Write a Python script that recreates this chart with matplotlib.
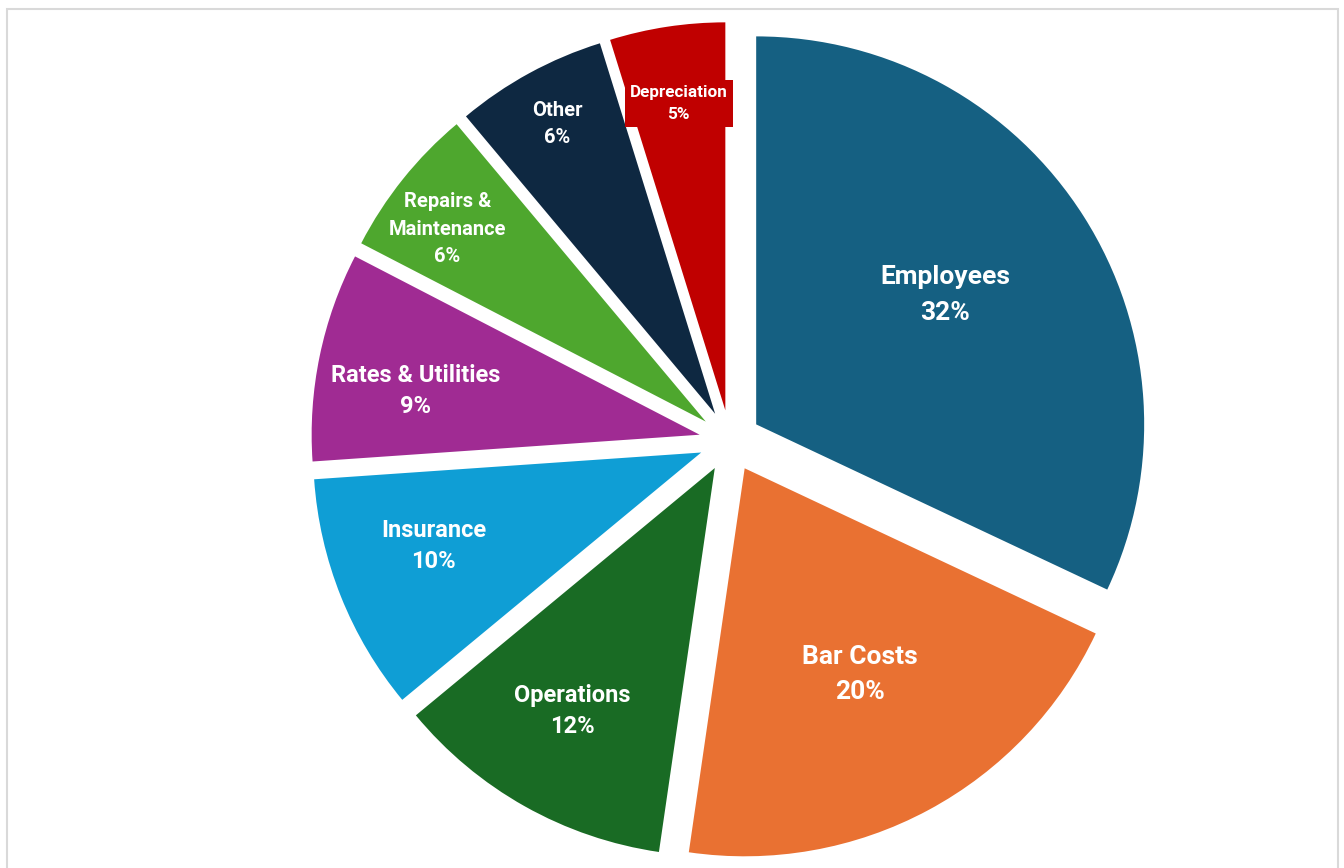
import matplotlib.pyplot as plt
from matplotlib.patches import Rectangle
import numpy as np

categories = ["Employees", "Bar Costs", "Operations", "Insurance",
              "Rates & Utilities", "Repairs &\nMaintenance", "Other", "Depreciation"]
shares = [32.0, 20.3, 11.7, 9.9, 8.7, 6.3, 6.3, 4.8]
colors = ["#156082", "#E97132", "#196B24", "#0F9ED5",
          "#A02B93", "#4EA72E", "#0E2841", "#C00000"]

# label layout: radius fraction, angle nudge (deg), font size, line spacing
label_r = [0.59, 0.61, 0.725, 0.73, 0.74, 0.83, 0.85, 0.80]
label_da = [-2, -1, 1, 2.5, -3, -2, 0, 0]
label_fs = [19, 19, 17, 17, 17, 14.5, 14.5, 12.3]
label_ls = [1.6, 1.6, 1.46, 1.46, 1.46, 1.55, 1.55, 1.6]

W, H = 1344, 868
fig = plt.figure(figsize=(W / 100, H / 100), dpi=100)
ax = fig.add_axes([0, 0, 1, 1])

# chart area frame (bottom edge runs off the image)
ax.add_patch(Rectangle((6.5, -20), 1331, H - 8.5 + 20, fill=False,
                       edgecolor="#D9D9D9", linewidth=1.5))

cx, cy, R = 730, H - 441, 388
gap = 31  # pie explode is in data units, not a fraction of radius
wedges, _ = ax.pie(shares, colors=colors, startangle=90, counterclock=False,
                   explode=[gap] * len(shares), center=(cx, cy), radius=R,
                   wedgeprops=dict(linewidth=0), frame=True)
ax.set_xlim(0, W)
ax.set_ylim(0, H)
ax.axis("off")

total = sum(shares)
for w, name, v, rf, da, fs, ls in zip(wedges, categories, shares,
                                      label_r, label_da, label_fs, label_ls):
    # counterclock=False -> a positive nudge means further clockwise
    ang = np.deg2rad((w.theta1 + w.theta2) / 2 - da)
    ccx, ccy = w.center
    x = ccx + rf * R * np.cos(ang)
    y = ccy + rf * R * np.sin(ang)
    kw = {}
    if name == "Depreciation":
        kw["bbox"] = dict(boxstyle="square,pad=0.3", facecolor="#C00000", edgecolor="none")
    ax.text(x, y, f"{name}\n{round(100 * v / total)}%", ha="center", va="center",
            color="white", fontsize=fs, fontweight="bold", family=["Roboto", "DejaVu Sans"],
            linespacing=ls, **kw)

fig.savefig("out.png", dpi=100)
